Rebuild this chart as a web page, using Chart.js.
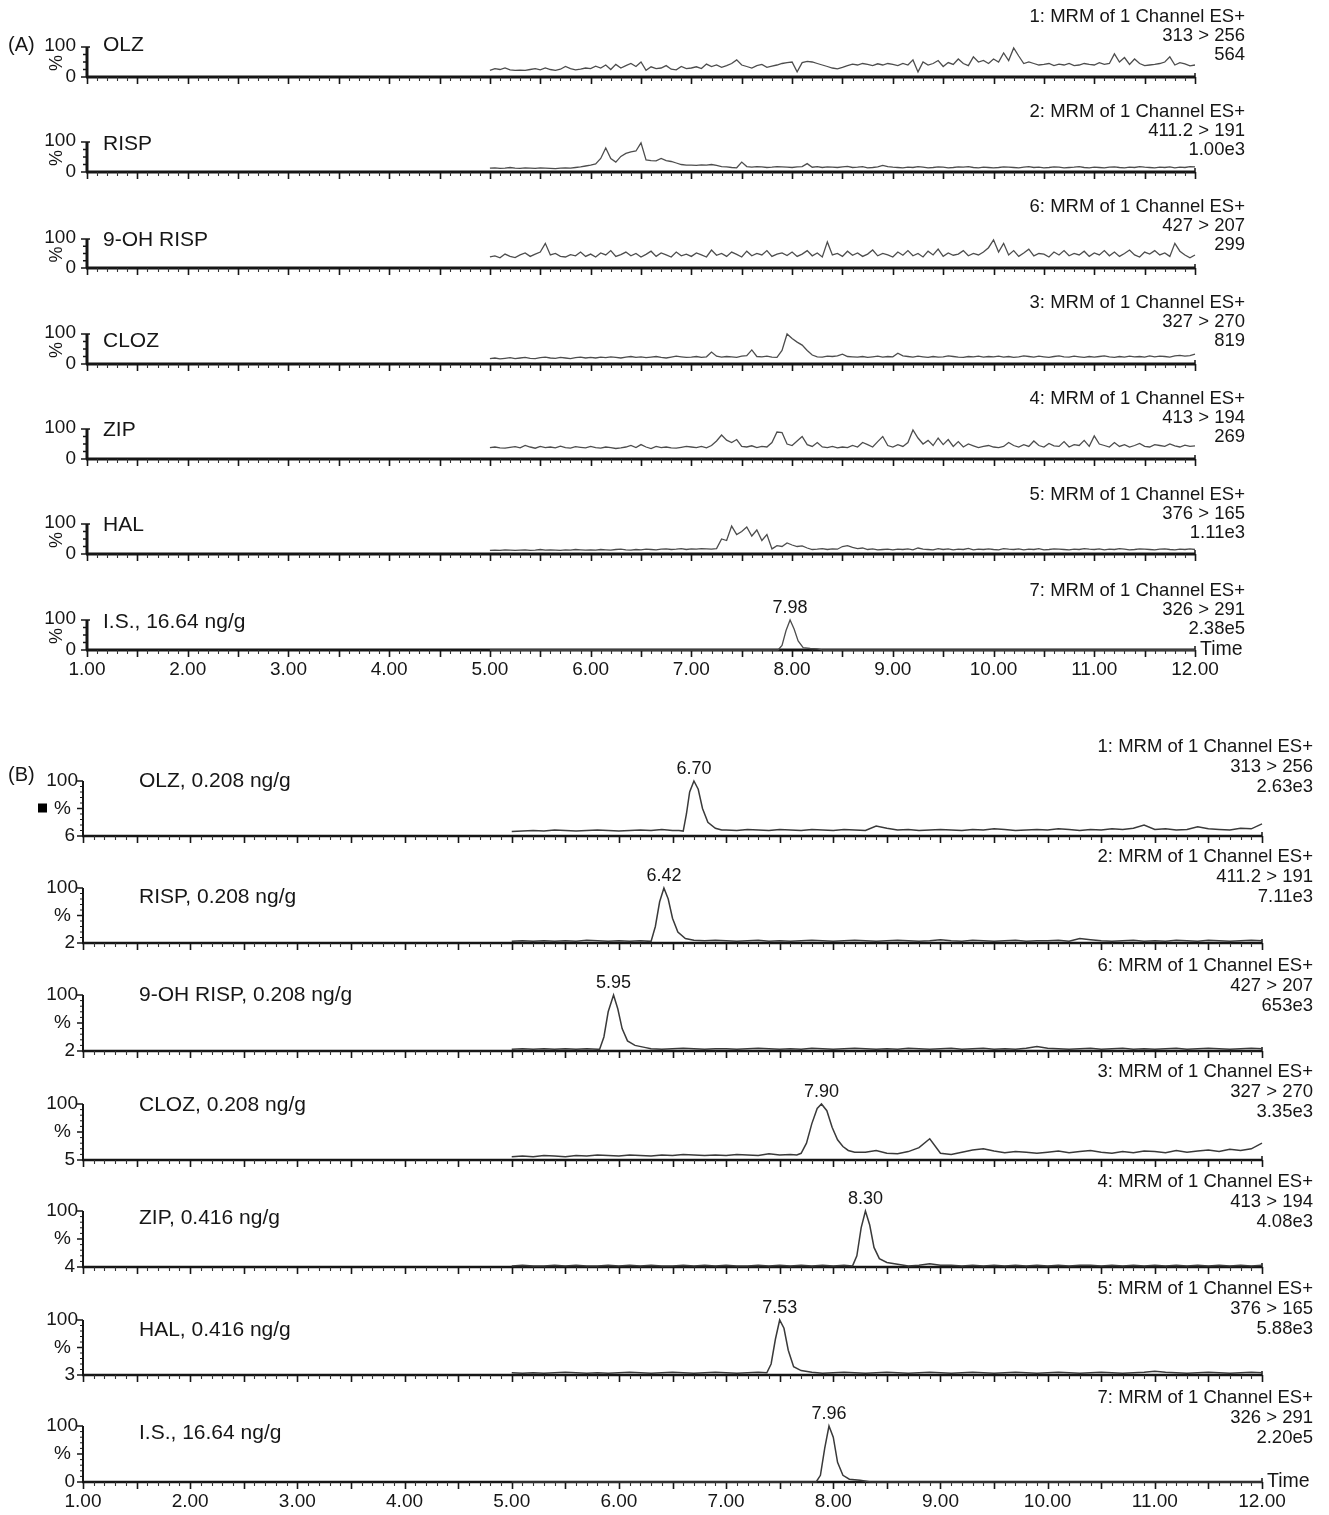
<!DOCTYPE html>
<html><head><meta charset="utf-8">
<script src="https://cdn.jsdelivr.net/npm/chart.js@4.4.1/dist/chart.umd.min.js"></script>
<style>
html,body{margin:0;padding:0;background:#fff;}
#wrap{position:relative;width:1329px;height:1515px;overflow:hidden;background:#fff;}
#wrap canvas{position:absolute;left:0;}
</style></head>
<body><div id="wrap"></div>
<script>
// ---------------- DATA ----------------
// Panel A: traces sampled every 0.05 min from 5.00 to 12.00 min (% of channel max)
const gridA = {start: 5.0, step: 0.05};
const olzA = [
 22,28,25,30,24,22,23,22,25,28,24,30,25,22,26,35,28,24,26,30,
 28,36,30,40,25,42,30,38,45,35,50,22,34,28,30,38,26,24,35,28,
 30,34,28,43,35,40,32,38,45,57,40,35,30,38,42,32,36,40,45,48,
 50,17,48,52,50,45,40,35,30,27,32,38,43,40,45,42,38,44,40,45,
 42,38,45,40,57,17,50,40,45,55,35,48,42,60,45,38,67,50,55,45,
 60,50,80,55,97,70,45,50,45,40,42,45,38,43,40,45,38,40,45,42,
 40,48,42,45,77,50,65,42,60,45,38,40,42,45,50,67,40,48,44,37,
 40];
const rispA = [
 13,14,12,13,15,13,12,14,13,12,14,13,12,11,13,14,13,15,17,20,
 23,27,45,80,45,33,52,62,67,70,97,40,38,37,45,38,35,30,25,23,
 23,22,24,23,25,22,18,17,15,14,33,18,16,18,17,15,16,18,17,16,
 15,17,18,28,16,18,15,17,16,15,17,19,15,16,18,14,15,17,22,18,
 16,15,14,16,15,18,16,14,15,17,16,14,15,17,16,18,15,14,16,15,
 14,15,17,16,15,14,16,18,15,16,14,15,17,16,14,15,16,18,15,14,
 16,15,14,16,17,15,14,16,15,18,16,15,14,16,15,17,14,16,15,18,
 17];
const ohRispA = [
 38,42,35,48,40,36,45,52,40,48,55,85,45,50,40,38,46,42,55,40,
 48,38,52,45,60,40,46,55,42,50,38,47,58,40,52,45,38,55,42,48,
 40,52,45,38,62,44,50,40,55,47,38,58,42,50,45,60,40,48,52,43,
 55,40,48,60,42,52,38,90,45,50,40,58,44,52,40,48,62,42,50,45,
 38,55,44,60,42,50,38,58,45,65,40,52,44,48,60,42,50,45,55,70,
 97,55,85,45,60,40,52,65,42,50,48,38,55,45,60,42,50,45,58,40,
 52,45,60,42,55,40,50,62,45,38,55,48,60,45,52,40,85,58,45,35,
 45];
const clozA = [
 18,20,17,19,21,18,20,22,19,18,21,23,20,19,22,20,18,21,23,20,
 22,20,23,21,24,22,20,23,25,22,24,21,23,25,22,20,23,26,24,22,
 23,25,22,24,40,26,23,25,24,22,26,28,47,25,24,26,23,22,45,100,
 85,73,63,45,30,24,23,26,25,27,33,25,24,23,25,22,24,26,23,25,
 24,36,27,25,23,26,24,22,25,23,24,27,25,23,22,25,24,26,23,25,
 24,26,23,25,22,24,27,25,23,26,24,22,25,27,24,23,26,24,22,25,
 23,25,27,24,22,25,23,26,24,25,23,27,24,26,25,23,27,29,26,28,
 33];
const zipA = [
 38,40,37,36,39,41,37,45,40,36,42,38,40,37,43,38,36,41,39,37,
 42,38,36,40,38,35,37,40,45,38,48,40,35,42,38,40,37,36,39,42,
 40,38,42,37,45,60,80,63,55,65,42,40,44,38,42,40,55,90,88,50,
 45,60,75,48,42,55,40,38,42,37,40,38,45,40,55,48,40,58,75,45,
 40,48,42,55,97,70,50,62,45,70,48,65,42,58,40,50,44,38,42,45,
 40,38,42,55,45,40,48,42,60,45,40,52,44,42,58,40,48,45,62,42,
 77,50,45,40,55,42,48,40,45,52,42,40,48,45,42,50,44,40,46,42,
 44];
const halA = [
 12,13,12,14,13,12,13,14,12,13,15,13,14,13,12,14,13,15,14,13,
 14,13,15,14,13,15,16,14,13,15,14,16,15,14,16,17,15,16,18,15,
 17,16,18,17,16,18,50,45,93,65,75,90,60,80,45,65,17,28,25,37,
 30,25,27,20,15,16,18,15,17,16,25,28,22,18,20,15,17,14,15,16,
 14,16,15,17,14,20,16,15,14,18,15,17,14,16,15,19,14,16,15,17,
 15,14,18,16,15,17,14,16,15,18,14,15,17,16,15,14,16,15,18,16,
 15,17,14,16,15,18,16,14,15,17,16,15,14,16,17,15,14,16,15,17,
 15];
const isA_T = [5.00,7.86,7.90,7.94,7.98,8.02,8.06,8.11,8.18,8.25,8.30,12.00];
const isA_Y = [0,0,15,65,100,70,30,8,5,4,0,0];

// Panel B: baselines sampled every 0.1 min from 5.0 to 12.0, plus peak points
const gridB = {start: 5.0, step: 0.1};
const olzB = [8,9,10,9,11,10,9,10,11,10, 9,10,11,10,12,10,9,10,11,10, 11,10,12,11,10,12,11,10,12,11,
 10,12,11,10,18,14,11,12,10,11, 12,11,10,12,11,13,12,10,11,12, 11,13,12,10,12,11,13,12,14,20, 12,13,11,12,17,13,12,11,14,13, 22];
const olzB_peakT = [6.56,6.60,6.63,6.66,6.70,6.74,6.78,6.83,6.90,6.96];
const olzB_peakY = [10,9,40,80,100,85,50,25,14,11];
const rispB = [3,4,3,4,3,4,3,5,4,3, 4,3,4,3,4,3,4,5,4,5, 4,3,4,5,3,4,3,4,5,4,
 3,4,5,4,3,4,5,4,3,4, 6,4,3,5,4,3,4,5,3,4, 4,5,3,8,6,4,3,4,5,3, 4,3,5,4,3,5,4,3,4,5, 4];
const rispB_peakT = [6.30,6.34,6.38,6.42,6.46,6.50,6.55,6.62,6.70];
const rispB_peakY = [3,30,75,100,80,45,20,8,5];
const ohRispB = [3,4,3,4,3,4,3,4,3,4, 3,4,5,4,3,4,5,4,3,4, 4,3,4,5,4,3,4,3,5,4,
 3,4,5,4,3,4,3,5,4,3, 4,5,3,4,5,3,4,3,5,8, 5,4,3,4,5,3,4,5,3,4, 3,4,5,3,4,5,4,3,4,5, 4];
const ohRispB_peakT = [5.82,5.86,5.90,5.95,5.99,6.03,6.08,6.15,6.25];
const ohRispB_peakY = [3,25,70,100,75,40,18,10,6];
const clozB = [6,7,6,8,7,6,8,7,9,8, 7,9,8,7,9,8,10,9,8,9, 8,10,9,8,11,9,10,9,9,9,
 9,9,12,14,17,12,11,15,22,38, 12,10,14,18,20,16,13,15,14,12, 14,16,13,15,17,14,12,15,13,16, 15,13,17,14,16,18,15,19,17,20, 30];
const clozB_peakT = [7.66,7.70,7.75,7.80,7.85,7.89,7.94,7.99,8.04,8.09,8.14,8.20];
const clozB_peakY = [9,12,30,65,92,100,88,58,36,24,17,14];
const zipB = [2,3,2,2,3,2,3,2,2,3, 2,3,2,3,2,2,3,2,3,2, 3,2,2,3,2,3,2,3,2,3,
 2,3,2,3,2,2,3,2,3,6, 3,3,2,3,2,3,2,3,2,3, 2,3,2,3,3,2,3,2,3,2, 3,2,3,2,3,2,3,2,3,2, 3];
const zipB_peakT = [8.18,8.22,8.26,8.30,8.34,8.38,8.43,8.50,8.60];
const zipB_peakY = [2,20,70,100,75,35,15,8,5];
const halB = [4,3,4,3,4,5,4,3,4,3, 4,5,4,3,4,5,4,3,4,5, 4,3,4,5,4,3,4,5,4,3,
 4,5,4,3,4,5,4,3,4,5, 4,3,4,5,4,3,4,5,4,3, 4,5,4,3,4,5,4,3,4,5, 7,5,4,3,4,5,4,3,4,5, 4];
const halB_peakT = [7.38,7.42,7.46,7.50,7.54,7.58,7.63,7.70,7.80];
const halB_peakY = [4,20,65,100,85,45,15,8,5];
const isB_T = [5.00,7.84,7.88,7.92,7.96,8.00,8.04,8.09,8.15,8.25,8.35,12.00];
const isB_Y = [0,0,12,60,100,80,35,12,5,3,0,0];

// Text
const namesA = ['OLZ','RISP','9-OH RISP','CLOZ','ZIP','HAL','I.S., 16.64 ng/g'];
const namesB = ['OLZ, 0.208 ng/g','RISP, 0.208 ng/g','9-OH RISP, 0.208 ng/g','CLOZ, 0.208 ng/g','ZIP, 0.416 ng/g','HAL, 0.416 ng/g','I.S., 16.64 ng/g'];
const channelNo = ['1','2','6','3','4','5','7'];
const transitions = ['313 > 256','411.2 > 191','427 > 207','327 > 270','413 > 194','376 > 165','326 > 291'];
const intensA = ['564','1.00e3','299','819','269','1.11e3','2.38e5'];
const intensB = ['2.63e3','7.11e3','653e3','3.35e3','4.08e3','5.88e3','2.20e5'];
const peakLabelsA = [null,null,null,null,null,null,'7.98'];
const peakLabelsB = ['6.70','6.42','5.95','7.90','8.30','7.53','7.96'];
const bottomLabelsB = ['6','2','2','5','4','3','0'];
const xTickLabels = ['1.00','2.00','3.00','4.00','5.00','6.00','7.00','8.00','9.00','10.00','11.00','12.00'];

// ---------------- LAYOUT ----------------
const PAGE_W = 1329;
const layoutA = {xL:87, xR:1195, rightX:1245,
  y100:[47,142,239,334,429,524,620], y0:[77,172,268,364,459,554,650],
  nameX:103, nameY:[45,144,240,341,430,525,622], rightY:[17,112,207,303,399,495,591]};
const layoutB = {xL:83, xR:1262, rightX:1313,
  y100:[781,888,995,1104,1211,1320,1426], y0:[836,943,1051,1160,1267,1375,1482],
  nameX:139, nameY:[781,897,995,1105,1218,1330,1433], rightY:[747,857,966,1072,1182,1289,1398]};

// ---------------- BUILD ----------------
function gridPoints(g, vals){ return vals.map((v,i)=>({x:+(g.start+i*g.step).toFixed(2), y:v})); }
function pairPoints(T,Y){ return T.map((t,i)=>({x:t,y:Y[i]})); }
function mergePeak(base,pT,pY){
  const lo=pT[0]-1e-9, hi=pT[pT.length-1]+1e-9;
  const pts=base.filter(p=>p.x<lo||p.x>hi);
  pT.forEach((t,i)=>pts.push({x:t,y:pY[i]}));
  return pts.sort((a,b)=>a.x-b.x);
}
const seriesA = [olzA,rispA,ohRispA,clozA,zipA,halA].map(v=>gridPoints(gridA,v));
seriesA.push(pairPoints(isA_T,isA_Y));
const seriesB = [
  mergePeak(gridPoints(gridB,olzB),olzB_peakT,olzB_peakY),
  mergePeak(gridPoints(gridB,rispB),rispB_peakT,rispB_peakY),
  mergePeak(gridPoints(gridB,ohRispB),ohRispB_peakT,ohRispB_peakY),
  mergePeak(gridPoints(gridB,clozB),clozB_peakT,clozB_peakY),
  mergePeak(gridPoints(gridB,zipB),zipB_peakT,zipB_peakY),
  mergePeak(gridPoints(gridB,halB),halB_peakT,halB_peakY),
  pairPoints(isB_T,isB_Y)
];

const panels=[];
for(let i=0;i<7;i++){
  panels.push({set:'A', i, data:seriesA[i], L:layoutA, name:namesA[i], peak:peakLabelsA[i],
    lines:[channelNo[i]+': MRM of 1 Channel ES+', transitions[i], intensA[i]],
    bottom:'0', showPct: i!==4, showX: i===6});
}
for(let i=0;i<7;i++){
  panels.push({set:'B', i, data:seriesB[i], L:layoutB, name:namesB[i], peak:peakLabelsB[i],
    lines:[channelNo[i]+': MRM of 1 Channel ES+', transitions[i], intensB[i]],
    bottom:bottomLabelsB[i], showPct:true, showX: i===6});
}

const FONT = '"Liberation Sans", Arial, "DejaVu Sans", sans-serif';
const INK = '#161616';
const wrap = document.getElementById('wrap');
const PT = 50, PB = 40;

function makePlugin(p, top){
  const isA = p.set==='A';
  return {
    id:'panel_'+p.set+p.i,
    beforeDatasetsDraw(chart){
      const ctx=chart.ctx, xs=chart.scales.x, ys=chart.scales.y;
      const y0=ys.getPixelForValue(0), y100=ys.getPixelForValue(100);
      const xL=xs.getPixelForValue(1), xR=xs.getPixelForValue(12);
      ctx.save();
      ctx.strokeStyle=INK; ctx.lineCap='butt';
      ctx.lineWidth = isA?3:2.5;
      ctx.beginPath(); ctx.moveTo(xL-1,y0); ctx.lineTo(xR,y0); ctx.stroke();
      ctx.lineWidth=1.5; ctx.beginPath(); ctx.moveTo(xR,y0); ctx.lineTo(xR,y0-4); ctx.stroke();
      for(let k=0;k<=110;k++){
        const px=Math.round(xs.getPixelForValue(1+k/10))+0.5;
        const major=(k%5===0);
        ctx.lineWidth = major?1.6:1.1;
        ctx.strokeStyle = major?INK:'#333';
        ctx.beginPath(); ctx.moveTo(px,y0); ctx.lineTo(px,y0+(major?7:4)); ctx.stroke();
      }
      ctx.strokeStyle=INK;
      ctx.lineWidth = isA?3:2;
      ctx.beginPath(); ctx.moveTo(xL,y0); ctx.lineTo(xL,y100); ctx.stroke();
      if(isA){
        [0,25,50,75,100].forEach(v=>{
          const py=ys.getPixelForValue(v);
          ctx.lineWidth=1.5; ctx.beginPath(); ctx.moveTo(xL,py); ctx.lineTo(xL-(v%100===0?6:4),py); ctx.stroke();
        });
        ctx.lineWidth=1.5; ctx.beginPath(); ctx.moveTo(xL,y100); ctx.lineTo(xL+3,y100); ctx.stroke();
      } else {
        for(let v=0;v<=100;v+=10){
          const py=ys.getPixelForValue(v);
          const major=(v%50===0);
          ctx.lineWidth=major?1.5:1; ctx.beginPath(); ctx.moveTo(xL,py); ctx.lineTo(xL-(major?6:3),py); ctx.stroke();
        }
      }
      ctx.restore();
    },
    afterDraw(chart){
      const ctx=chart.ctx, xs=chart.scales.x, ys=chart.scales.y;
      const y0=ys.getPixelForValue(0), y100=ys.getPixelForValue(100);
      const L=p.L;
      ctx.save();
      ctx.fillStyle=INK;
      ctx.font='19px '+FONT; ctx.textBaseline='middle'; ctx.textAlign='right';
      if(isA){
        ctx.fillText('100',L.xL-11,y100-1);
        ctx.fillText('0',L.xL-11,y0);
        if(p.showPct){
          ctx.save(); ctx.translate(L.xL-30,(y0+y100)/2+1); ctx.rotate(-Math.PI/2);
          ctx.textAlign='center'; ctx.font='18px '+FONT; ctx.fillText('%',0,0); ctx.restore();
        }
      } else {
        ctx.fillText('100',L.xL-5,y100);
        ctx.fillText('%',L.xL-12,(y0+y100)/2);
        ctx.fillText(p.bottom,L.xL-8,y0);
      }
      ctx.font='21px '+FONT; ctx.textAlign='left';
      ctx.fillText(p.name,L.nameX,L.nameY[p.i]-top);
      ctx.font='18.5px '+FONT; ctx.textAlign='right';
      const lh = isA?19:20;
      p.lines.forEach((s,j)=>ctx.fillText(s,L.rightX,L.rightY[p.i]-top+j*lh));
      if(p.peak){
        let best=p.data[0]; p.data.forEach(d=>{ if(d.y>best.y) best=d; });
        ctx.font='18px '+FONT; ctx.textAlign='center'; ctx.textBaseline='alphabetic';
        ctx.fillText(p.peak, xs.getPixelForValue(best.x), ys.getPixelForValue(best.y)-7);
      }
      if(p.showX){
        ctx.font='19px '+FONT; ctx.textAlign='center'; ctx.textBaseline='middle';
        xTickLabels.forEach((s,k)=>ctx.fillText(s, xs.getPixelForValue(k+1), y0+20));
        ctx.textAlign='left'; ctx.font='19.5px '+FONT;
        ctx.fillText('Time', xs.getPixelForValue(12)+5, y0);
      }
      if(p.i===0){
        ctx.font='20px '+FONT; ctx.textAlign='left'; ctx.textBaseline='middle';
        if(isA){ ctx.fillText('(A)',8,y100-2); }
        else {
          ctx.fillText('(B)',8,y100-6);
          ctx.fillStyle='#000'; ctx.fillRect(38,(y0+y100)/2-5,9,9);
        }
      }
      ctx.restore();
    }
  };
}

panels.forEach(p=>{
  const L=p.L;
  const y100=L.y100[p.i], y0=L.y0[p.i];
  const top=y100-PT, h=(y0-y100)+PT+PB;
  const cv=document.createElement('canvas');
  cv.width=PAGE_W; cv.height=h;
  cv.style.top=top+'px'; cv.style.width=PAGE_W+'px'; cv.style.height=h+'px';
  wrap.appendChild(cv);
  new Chart(cv,{
    type:'line',
    data:{datasets:[{data:p.data, borderColor:p.set==='A'?'#4d4d4d':'#3a3a3a',
      borderWidth:p.set==='A'?1.3:1.5, pointRadius:0, tension:0, fill:false, clip:false}]},
    options:{
      responsive:false, animation:false, events:[],
      layout:{padding:{left:L.xL, right:PAGE_W-L.xR, top:PT, bottom:PB}},
      plugins:{legend:{display:false}, tooltip:{enabled:false}, title:{display:false}},
      scales:{
        x:{type:'linear', min:1, max:12, display:false},
        y:{type:'linear', min:0, max:100, display:false}
      }
    },
    plugins:[makePlugin(p,top)]
  });
});
</script>
</body></html>
